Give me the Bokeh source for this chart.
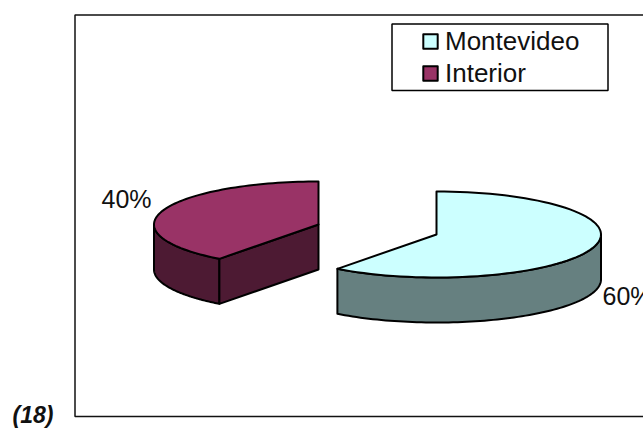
import math
from bokeh.plotting import figure
from bokeh.models import Range1d, Legend, LegendItem, Label
from bokeh.embed import file_html
from bokeh.resources import INLINE

categories = ["Montevideo", "Interior"]
values = [60, 40]
percent_labels = ["60%", "40%"]
top_colors = ["#CCFFFF", "#993366"]
side_colors = ["#668080", "#4D1A33"]
footnote = "(18)"

W, H = 643, 430
RX, RY, DEPTH = 164.5, 43, 45
CENTERS = [(436, 234), (318, 224)]

p = figure(width=W, height=H, output_backend="svg", toolbar_location=None,
           x_range=Range1d(0, W), y_range=Range1d(H, 0),
           min_border=0, outline_line_color=None)
p.axis.visible = False
p.grid.visible = False
p.background_fill_color = "white"
p.border_fill_color = "white"

# plot-area frame
fx0, fx1, fy0, fy1 = 74.5, W + 4, 14.5, 416
p.line([fx1, fx0, fx0, fx1], [fy0, fy0, fy1, fy1], line_color="#111111", line_width=1.5)


def arc(cx, cy, a0, a1, dy=0, n=80):
    pts = [a0 + (a1 - a0) * i / n for i in range(n + 1)]
    return ([cx + RX * math.sin(a) for a in pts],
            [cy + dy - RY * math.cos(a) for a in pts])


def view(a):
    # slight perspective shift of the chart's 3-D view
    return a + math.radians(1.1) * math.sin(a / 2)


total = sum(values)
start = 0.0
tops = []
for val, (cx, cy), tc, sc in zip(values, CENTERS, top_colors, side_colors):
    a0 = view(start)
    start += 2 * math.pi * val / total
    a1 = view(start)
    cut = a0 if a0 > 0 else a1
    ex = cx + RX * math.sin(cut)
    ey = cy - RY * math.cos(cut)
    style = dict(line_color="black", line_width=2, line_join="round")

    # outer wall: the part of the rim that faces the viewer
    w0, w1 = max(a0, math.pi / 2), min(a1, 3 * math.pi / 2)
    if w0 < w1:
        xs, ys = arc(cx, cy, w0, w1)
        xb, yb = arc(cx, cy, w0, w1, dy=DEPTH)
        p.patch(xs + xb[::-1], ys + yb[::-1], fill_color=sc, **style)

    # cut face of the left slice
    if a0 > 0:
        p.patch([cx, ex, ex, cx], [cy, ey, ey + DEPTH, cy + DEPTH], fill_color=sc, **style)

    xt, yt = arc(cx, cy, a0, a1)
    tops.append(p.patch([cx] + xt, [cy] + yt, fill_color=tc, **style))

text_font = "Liberation Sans"
p.add_layout(Label(x=602, y=309, text=percent_labels[0], text_font=text_font,
                   text_font_size="25px", text_color="#111111"))
p.add_layout(Label(x=101, y=212, text=percent_labels[1], text_font=text_font,
                   text_font_size="25px", text_color="#111111"))
p.add_layout(Label(x=12, y=427, text=footnote, text_font=text_font,
                   text_font_size="23px", text_font_style="bold italic", text_color="#111111"))

# legend box, then the legend's entries inside it
p.quad(left=[391.5], right=[607.5], top=[23.5], bottom=[90],
       fill_color="white", line_color="black", line_width=1.5)
legend = Legend(items=[LegendItem(label=c, renderers=[r]) for c, r in zip(categories, tops)],
                location=(421, H - 89), margin=0, padding=0, spacing=0,
                glyph_width=18, glyph_height=18, label_standoff=6,
                label_text_font=text_font, label_text_font_size="26px",
                label_text_color="#111111", label_height=32,
                border_line_color=None, background_fill_alpha=0)
p.add_layout(legend, "center")

open("out.html", "w").write(file_html(p, INLINE))
